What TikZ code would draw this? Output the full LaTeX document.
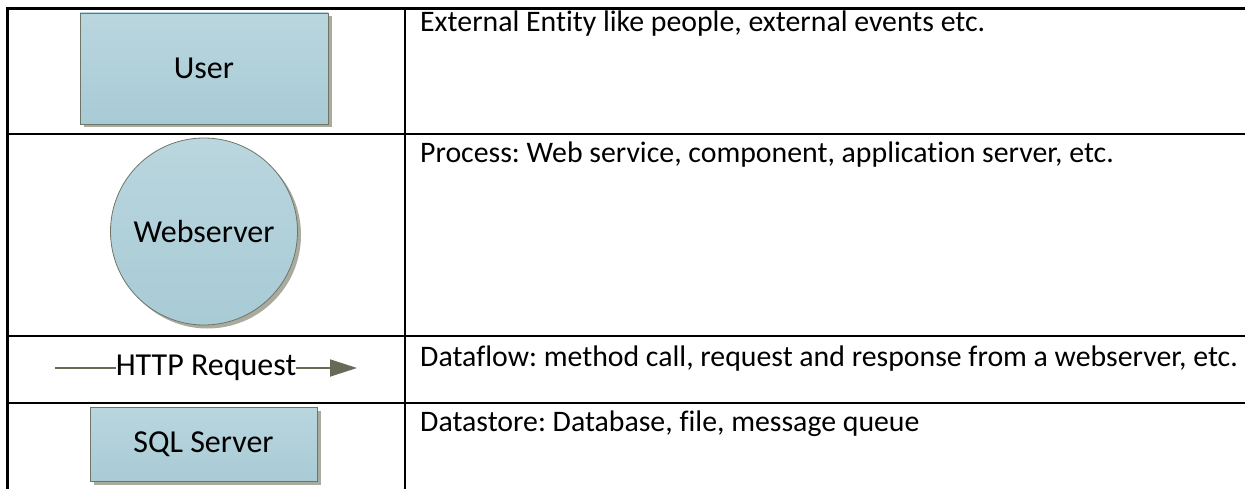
\documentclass[tikz,border=0pt]{standalone}
\usepackage{fontspec}
\setmainfont[Ligatures={NoCommon}]{Carlito}
\frenchspacing
\usetikzlibrary{shadows,arrows.meta}
\definecolor{boxtop}{HTML}{BAD6DF}
\definecolor{boxbot}{HTML}{A8CBD5}
\definecolor{boxline}{HTML}{6F7566}
\definecolor{shade}{HTML}{A9AB9E}
\definecolor{flow}{HTML}{666B57}
\tikzset{
  grid/.style={line width=2.3pt, black},
  entity/.style={draw=boxline, line width=0.8pt, top color=boxtop, bottom color=boxbot,
    drop shadow={shadow xshift=3.5pt, shadow yshift=-3.5pt, fill=shade, opacity=1},
    font=\fontsize{32}{36}\selectfont, inner sep=0pt},
  desc/.style={anchor=base west, inner sep=0pt, font=\fontsize{29.8}{34}\selectfont},
  lbl/.style={inner sep=0pt, font=\fontsize{32}{36}\selectfont},
}
\begin{document}
\begin{tikzpicture}[x=1pt,y=-1pt]
\useasboundingbox (0,0) rectangle (1245,489);
% table grid
\draw[grid] (7.5,500) -- (7.5,8.5) -- (1260,8.5);
\draw[grid] (405,8.5) -- (405,500);
\draw[grid] (7.5,134) -- (1260,134);
\draw[grid] (7.5,336) -- (1260,336);
\draw[grid] (7.5,403) -- (1260,403);
% row 1
\node[entity, minimum width=248pt, minimum height=111pt] (user) at (204,68.5) {User};
\node[desc] (d1) at (420,32) {External Entity like people, external events etc.};
% row 2
\node[entity, circle, minimum size=187pt] (web) at (204,231.5) {Webserver};
\node[desc] (d2) at (420,163) {Process: Web service, component, application server, etc.};
% row 3
\node[lbl] (http) at (206,368) {HTTP Request};
\coordinate (a0) at (55,368);
\coordinate (a1) at (357,368);
\draw[flow, line width=1.8pt] (a0) -- (http.west);
\draw[flow, line width=1.8pt, -{Triangle[length=27pt,width=17pt]}] (http.east) -- (a1);
\node[desc] (d3) at (420,366) {Dataflow: method call, request and response from a webserver, etc.};
% row 4
\node[entity, minimum width=227pt, minimum height=74pt] (sql) at (203.5,444.5) {SQL Server};
\node[desc] (d4) at (420,431) {Datastore: Database, file, message queue};
\end{tikzpicture}
\end{document}
